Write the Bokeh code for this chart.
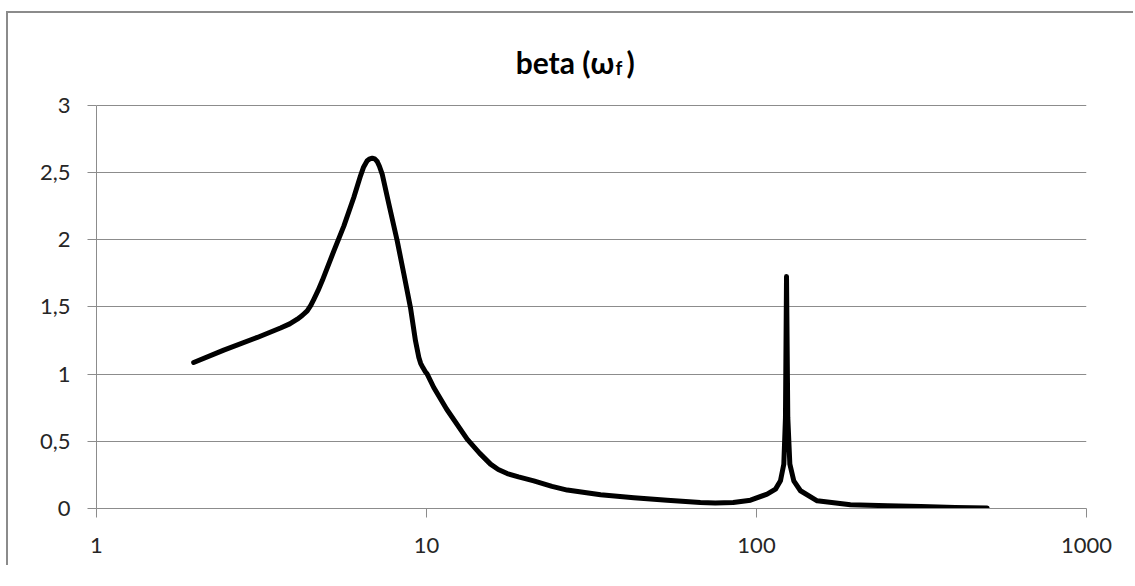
from bokeh.plotting import figure
from bokeh.models import Range1d, FixedTicker, CustomJSTickFormatter, Label
from bokeh.embed import file_html
from bokeh.resources import INLINE

# ---- data ----
omega = [1.97, 2.43, 3.07, 3.61, 3.85, 4.06, 4.2, 4.35, 4.46, 4.56, 4.69, 4.83, 5.24, 5.62,
         6.02, 6.31, 6.45, 6.61, 6.73, 6.85, 6.97, 7.09, 7.2, 7.34, 7.69, 8.15, 8.54, 8.94,
         9.26, 9.48, 9.6, 9.75, 9.9, 10.05, 10.52, 11.5, 13.28, 14.5, 15.63, 16.5, 17.56,
         19.0, 21.14, 24.0, 26.7, 33.7, 42.5, 53.6, 67.6, 75.0, 85.0,
         95.9, 107.7, 114.2, 118.2, 121.0, 122.4, 123.3, 124.4, 126.2, 129.7,
         135.9, 152.7, 192.6, 250.0, 315.0, 400.0, 500.0]
beta = [1.086, 1.178, 1.272, 1.342, 1.373, 1.408, 1.435, 1.470, 1.51, 1.557, 1.62, 1.693,
        1.916, 2.102, 2.313, 2.474, 2.54, 2.586, 2.60, 2.605, 2.60, 2.581, 2.545, 2.487,
        2.264, 1.991, 1.743, 1.495, 1.247, 1.123, 1.08, 1.048, 1.02, 1.0, 0.900, 0.74,
        0.516, 0.41, 0.330, 0.29, 0.260, 0.235, 0.206, 0.165, 0.137, 0.102, 0.080, 0.062,
        0.045, 0.040, 0.045, 0.062, 0.107, 0.144, 0.206, 0.330, 0.677, 1.725, 0.677, 0.330,
        0.206, 0.132, 0.057, 0.028, 0.020, 0.015, 0.008, 0.004]

x_ticks = [1, 10, 100, 1000]
y_ticks = [0, 0.5, 1, 1.5, 2, 2.5, 3]
title_main = "beta (ω"
title_sub = "f"
title_close = ")"

GRID = "#8c8c8c"
FONT = "Lato"
Y_TOP = 3 * 478 / 403.4   # frame extends above 3 to hold the title

p = figure(
    x_axis_type="log",
    x_range=Range1d(1, 1000), y_range=Range1d(0, Y_TOP),
    frame_width=990, frame_height=478,
    min_border_left=88, min_border_top=17, min_border_right=47, min_border_bottom=57,
    output_backend="svg", toolbar_location=None,
    background_fill_color="white", border_fill_color="white",
    styles={"border-left": "2px solid #8b8b8b", "border-top": "2px solid #8b8b8b",
            "margin-left": "6px", "margin-top": "11px"},
)
p.outline_line_color = None

p.line(omega, beta, line_width=5, line_color="black",
       line_join="round", line_cap="round")

# axes
p.xaxis.ticker = FixedTicker(ticks=x_ticks)
p.xaxis.formatter = CustomJSTickFormatter(code="return String(Math.round(tick));")
p.yaxis.ticker = FixedTicker(ticks=y_ticks)
p.yaxis.formatter = CustomJSTickFormatter(code="return tick.toString().replace('.', ',');")
p.yaxis.bounds = (0, 3)
for ax in (p.xaxis, p.yaxis):
    ax.axis_line_color = GRID
    ax.axis_line_width = 1
    ax.major_tick_line_color = GRID
    ax.major_tick_in = 0
    ax.major_tick_out = 9
    ax.minor_tick_line_color = None
    ax.major_label_text_font = FONT
    ax.major_label_text_font_size = "22px"
    ax.major_label_text_color = "#262626"
p.xaxis.major_label_standoff = 20
p.yaxis.major_label_standoff = 17

p.xgrid.visible = False
p.ygrid.ticker = FixedTicker(ticks=y_ticks)
p.ygrid.grid_line_color = GRID
p.ygrid.grid_line_width = 1

# title with subscript
tx = 36.87
p.add_layout(Label(x=tx, y=3.317, text=title_main, text_font=FONT, text_font_style="bold",
                   text_font_size="30px", text_align="right", text_baseline="alphabetic",
                   text_color="black"))
p.add_layout(Label(x=tx, y=3.283, x_offset=2, text=title_sub, text_font=FONT,
                   text_font_style="bold", text_font_size="19px", text_align="left",
                   text_baseline="alphabetic", text_color="black"))
p.add_layout(Label(x=tx, y=3.317, x_offset=13, text=title_close, text_font=FONT,
                   text_font_style="bold", text_font_size="30px", text_align="left",
                   text_baseline="alphabetic", text_color="black"))

open("out.html", "w").write(file_html(p, INLINE))
